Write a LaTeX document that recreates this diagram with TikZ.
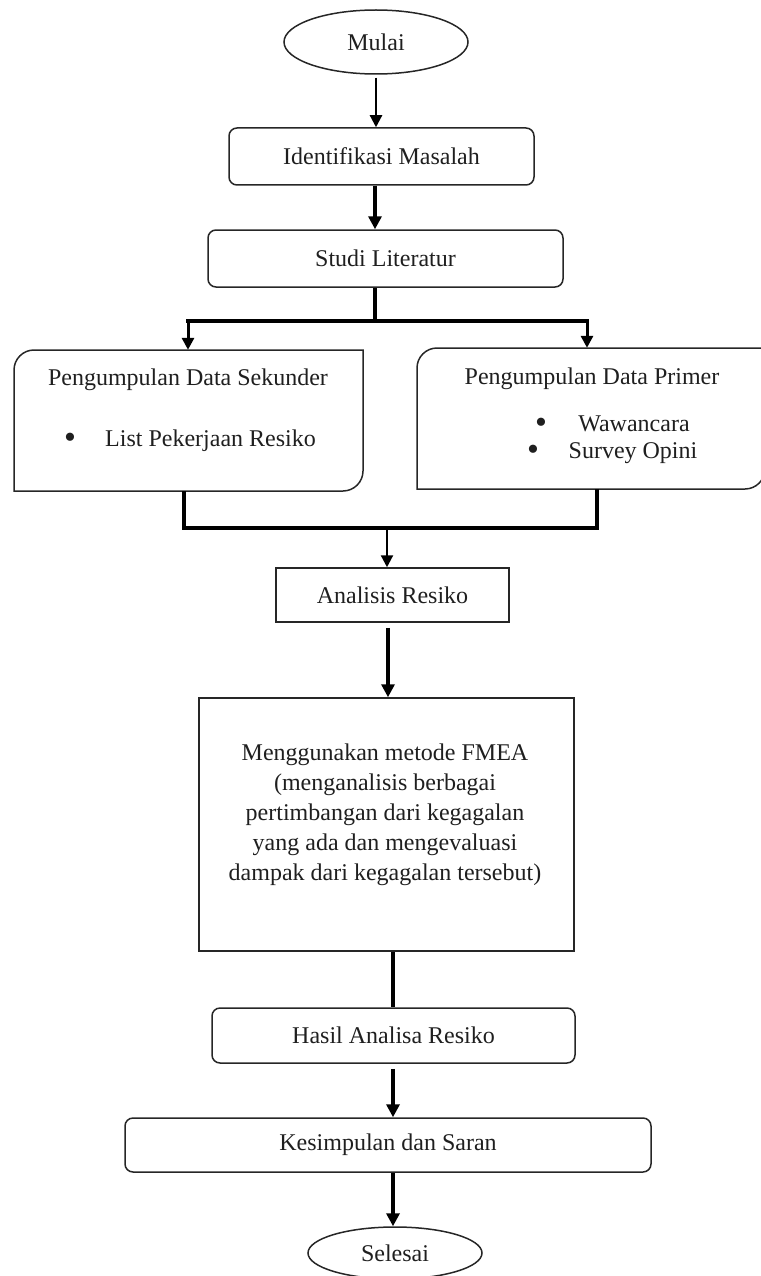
\documentclass[tikz,border=0pt]{standalone}
\usepackage{fontspec}
\setmainfont{Liberation Serif}
\usetikzlibrary{shapes.geometric,arrows.meta,calc}
\tikzset{
  base/.style={font=\fontsize{24}{30}\selectfont, text=black!88, inner sep=0pt},
  rbox/.style={base, draw=black!85, line width=1.5pt, rounded corners=8pt, rectangle},
  sbox/.style={base, draw=black!85, line width=1.5pt, rectangle},
  term/.style={base, draw=black!85, line width=1.5pt, ellipse},
  lbl/.style={base},
  bul/.style={base, font=\fontsize{34}{34}\selectfont, anchor=base},
  arrthin/.style={line width=2.2pt, -{Triangle[width=12pt,length=12pt]}},
  arrmid/.style={line width=3pt, -{Triangle[width=12pt,length=12pt]}},
  arrthick/.style={line width=4pt, -{Triangle[width=13pt,length=13pt]}},
  conn/.style={line width=3.5pt},
  connthick/.style={line width=4pt},
  outline/.style={draw=black!85, line width=1.5pt}
}
\begin{document}
\begin{tikzpicture}[x=1pt,y=-1pt]
\useasboundingbox (0,0) rectangle (760,1276);

% nodes
\node[term, minimum width=184pt, minimum height=64pt] (mulai) at (376,42) {Mulai};
\node[rbox, minimum width=305pt, minimum height=57pt] (ident) at (381.5,156.5) {Identifikasi Masalah};
\node[rbox, minimum width=355pt, minimum height=57pt] (studi) at (385.5,258.5) {Studi Literatur};

% secondary / primary data boxes (outlines drawn below)
\node[base, minimum width=349pt, minimum height=141pt] (sek) at (188.5,420.5) {};
\node[base, minimum width=348pt, minimum height=141pt] (prim) at (591,418.5) {};
\draw[outline] (14,491) -- (14,370) .. controls (14,359) and (23,350) .. (34,350)
  -- (363,350) -- (363,471) .. controls (363,482) and (354,491) .. (343,491) -- cycle;
\draw[outline] (417,489) -- (417,368) .. controls (417,357) and (426,348) .. (437,348)
  -- (765,348) -- (765,469) .. controls (765,480) and (756,489) .. (745,489) -- cycle;

\node[lbl] (sektitle) at (188,380) {Pengumpulan Data Sekunder};
\node[bul] (sekb) at (70,448) {\textbullet};
\node[lbl, anchor=base west] (sekitem) at (105,446) {List Pekerjaan Resiko};

\node[lbl] (primtitle) at (592,379) {Pengumpulan Data Primer};
\node[bul] (primb1) at (541,433) {\textbullet};
\node[lbl, anchor=base] (primi1) at (634,431) {Wawancara};
\node[bul] (primb2) at (533,460) {\textbullet};
\node[lbl, anchor=base] (primi2) at (633,458) {Survey Opini};

\node[sbox, minimum width=233pt, minimum height=54pt] (anal) at (392.5,595) {Analisis Resiko};

\node[sbox, minimum width=375pt, minimum height=253pt] (fmea) at (386.5,824.5) {};
\node[lbl, align=center] (fmeatext) at (385,815) {Menggunakan metode FMEA\\(menganalisis berbagai\\pertimbangan dari kegagalan\\yang ada dan mengevaluasi\\dampak dari kegagalan tersebut)};

\node[rbox, minimum width=363pt, minimum height=55pt] (hasil) at (393.5,1035.5) {Hasil Analisa Resiko};
\node[rbox, minimum width=526pt, minimum height=54pt] (kes) at (388,1145) {Kesimpulan dan Saran};
\node[term, minimum width=174pt, minimum height=52pt] (sel) at (395,1253) {Selesai};

% spine coordinates
\coordinate (sp1) at (375,0);
\coordinate (bl) at (188,321);
\coordinate (br) at (587,321);
\coordinate (jl) at (184,528);
\coordinate (jr) at (597,528);
\coordinate (jm) at (387,528);
\coordinate (sp2) at (393,0);

% connectors
\draw[arrthin, shorten <=3pt] (mulai.south) -- (mulai.south |- ident.north);
\draw[arrthick] (sp1 |- ident.south) -- (sp1 |- studi.north);
\draw[connthick] (sp1 |- studi.south) -- (sp1 |- bl);
\draw[conn] ([xshift=-1.75pt]bl) -- ([xshift=1.75pt]br);
\draw[arrmid] (bl) -- (bl |- sek.north);
\draw[arrmid] (br) -- (br |- prim.north);
\draw[conn] (jl |- sek.south) -- (jl) -- (jr) -- (jr |- prim.south);
\draw[arrthin] (jm) -- (jm |- anal.north);
\draw[arrthick, shorten <=5pt] ([xshift=-4.5pt]anal.south) -- ([xshift=-4.5pt]anal.south |- fmea.north);
\draw[connthick] (sp2 |- fmea.south) -- (sp2 |- hasil.north);
\draw[arrthick, shorten <=5pt] (sp2 |- hasil.south) -- (sp2 |- kes.north);
\draw[arrthick] (sp2 |- kes.south) -- (sp2 |- sel.north);
\end{tikzpicture}
\end{document}
